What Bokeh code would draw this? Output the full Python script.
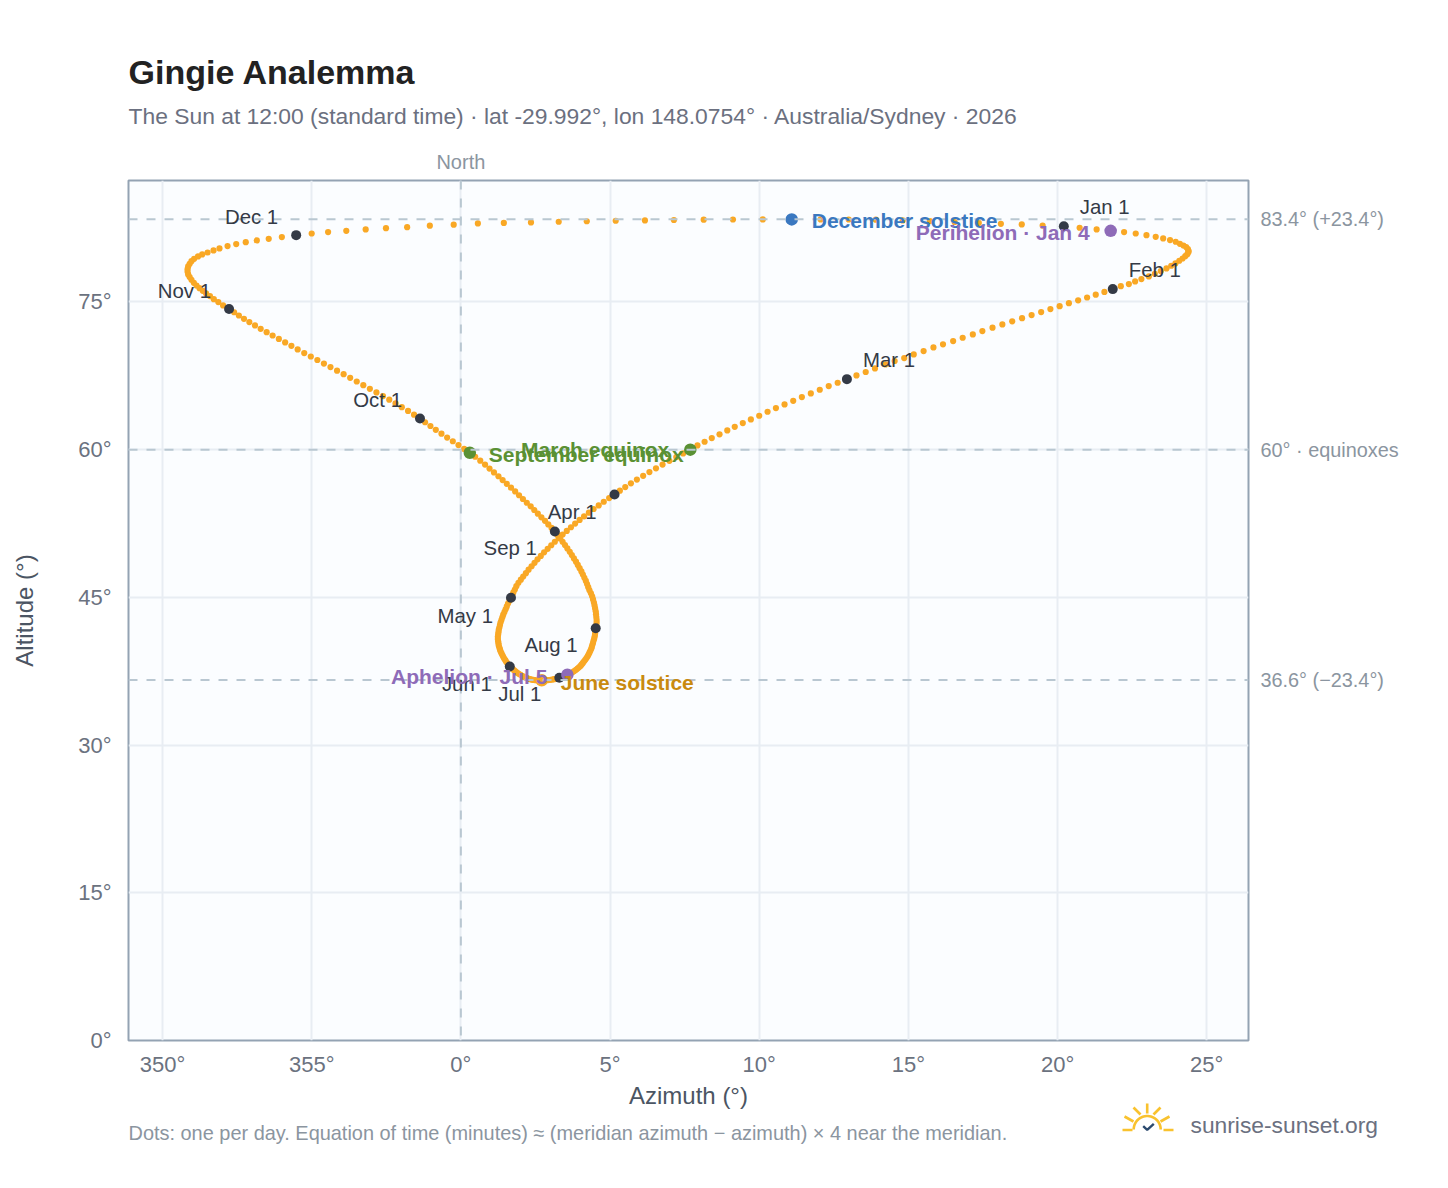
import numpy as np
from bokeh.embed import file_html
from bokeh.layouts import column
from bokeh.models import FixedTicker, Label, LinearAxis, Span
from bokeh.plotting import figure
from bokeh.resources import INLINE

TITLE = "Gingie Analemma"
SUBTITLE = "The Sun at 12:00 (standard time) · lat -29.992°, lon 148.0754° · Australia/Sydney · 2026"
CAPTION = "Dots: one per day. Equation of time (minutes) ≈ (meridian azimuth − azimuth) × 4 near the meridian."
BRAND = "sunrise-sunset.org"

# Daily azimuth (degrees, east positive) and altitude (degrees), month by month
AZ_JAN = [20.21,20.74,21.31,21.78,22.23,22.62,22.98,23.29,23.54,23.77,23.96,24.10,24.22,24.31,24.37,24.39,24.39,24.35,24.28,24.19,24.08,23.95,23.81,23.65,23.46,23.26,23.06,22.81,22.60,22.39,22.12]
AL_JAN = [82.68,82.53,82.36,82.22,82.09,81.95,81.78,81.61,81.45,81.28,81.11,80.90,80.73,80.57,80.36,80.19,80.06,79.85,79.65,79.41,79.18,78.91,78.67,78.40,78.13,77.86,77.59,77.32,77.08,76.81,76.60]
AZ_FEB = [21.85,21.57,21.28,20.99,20.69,20.38,20.07,19.76,19.45,19.13,18.81,18.48,18.15,17.82,17.48,17.16,16.82,16.50,16.16,15.84,15.51,15.18,14.86,14.54,14.23,13.88,13.57,13.26]
AL_FEB = [76.30,76.02,75.74,75.45,75.16,74.87,74.57,74.27,73.97,73.66,73.35,73.03,72.71,72.38,72.04,71.70,71.36,71.02,70.69,70.38,70.01,69.67,69.30,69.00,68.65,68.25,67.88,67.54]
AZ_MAR = [12.94,12.63,12.33,12.03,11.73,11.43,11.14,10.85,10.56,10.28,10.00,9.72,9.45,9.18,8.93,8.67,8.41,8.17,7.93,7.69,7.45,7.22,6.99,6.76,6.54,6.32,6.11,5.90,5.70,5.51,5.33]
AL_MAR = [67.16,66.79,66.45,66.08,65.71,65.34,64.96,64.59,64.22,63.85,63.44,63.07,62.70,62.32,61.95,61.55,61.17,60.80,60.43,60.00,59.62,59.24,58.86,58.48,58.10,57.72,57.34,56.96,56.58,56.20,55.83]
AZ_APR = [5.15,4.97,4.79,4.62,4.45,4.29,4.13,3.98,3.83,3.69,3.55,3.41,3.28,3.15,3.03,2.91,2.79,2.68,2.57,2.47,2.37,2.27,2.18,2.09,2.01,1.93,1.86,1.81,1.76,1.72]
AL_APR = [55.45,55.08,54.71,54.34,53.97,53.60,53.23,52.86,52.49,52.12,51.75,51.38,51.01,50.65,50.29,49.93,49.57,49.21,48.86,48.51,48.16,47.81,47.46,47.12,46.80,46.48,46.14,45.80,45.50,45.22]
AZ_MAY = [1.68,1.63,1.58,1.54,1.50,1.46,1.42,1.39,1.36,1.33,1.31,1.29,1.27,1.26,1.25,1.24,1.24,1.25,1.26,1.27,1.29,1.31,1.33,1.36,1.39,1.42,1.45,1.49,1.52,1.56,1.60]
AL_MAY = [44.96,44.66,44.37,44.08,43.79,43.51,43.24,42.97,42.70,42.44,42.19,41.94,41.69,41.45,41.22,40.99,40.76,40.54,40.33,40.12,39.91,39.71,39.52,39.33,39.14,38.96,38.79,38.62,38.45,38.29,38.14]
AZ_JUN = [1.64,1.69,1.74,1.79,1.84,1.89,1.94,2.00,2.05,2.10,2.16,2.21,2.26,2.32,2.37,2.43,2.48,2.54,2.59,2.65,2.71,2.77,2.83,2.89,2.95,3.01,3.07,3.12,3.18,3.24]
AL_JUN = [37.98,37.84,37.71,37.58,37.46,37.34,37.23,37.13,37.04,36.95,36.87,36.80,36.74,36.69,36.65,36.62,36.60,36.58,36.57,36.57,36.57,36.57,36.58,36.59,36.61,36.63,36.66,36.69,36.73,36.78]
AZ_JUL = [3.30,3.37,3.44,3.50,3.57,3.63,3.69,3.75,3.80,3.86,3.91,3.96,4.01,4.05,4.09,4.13,4.17,4.21,4.25,4.28,4.31,4.34,4.37,4.39,4.41,4.43,4.45,4.47,4.49,4.50,4.51]
AL_JUL = [36.83,36.90,36.97,37.05,37.14,37.22,37.31,37.41,37.52,37.64,37.77,37.90,38.04,38.19,38.34,38.50,38.66,38.83,39.01,39.19,39.38,39.57,39.77,39.97,40.18,40.39,40.61,40.83,41.08,41.33,41.60]
AZ_AUG = [4.52,4.54,4.55,4.55,4.54,4.53,4.52,4.50,4.48,4.46,4.43,4.40,4.36,4.31,4.27,4.23,4.19,4.14,4.09,4.04,3.98,3.92,3.86,3.79,3.72,3.65,3.57,3.49,3.41,3.33,3.24]
AL_AUG = [41.87,42.15,42.43,42.71,43.00,43.29,43.58,43.88,44.18,44.48,44.79,45.10,45.41,45.72,46.03,46.35,46.67,46.99,47.31,47.63,47.96,48.29,48.62,48.95,49.29,49.63,49.97,50.31,50.65,50.99,51.34]
AZ_SEP = [3.15,3.04,2.93,2.82,2.70,2.58,2.46,2.34,2.21,2.08,1.95,1.82,1.68,1.54,1.40,1.26,1.11,0.96,0.81,0.65,0.48,0.30,0.11,-0.08,-0.27,-0.46,-0.65,-0.84,-1.02,-1.20]
AL_SEP = [51.69,52.05,52.41,52.77,53.13,53.50,53.87,54.24,54.61,54.99,55.37,55.76,56.14,56.53,56.91,57.30,57.69,58.08,58.48,58.88,59.28,59.68,60.07,60.46,60.85,61.23,61.62,62.01,62.40,62.78]
AZ_OCT = [-1.37,-1.57,-1.77,-1.98,-2.19,-2.40,-2.61,-2.83,-3.05,-3.27,-3.49,-3.71,-3.93,-4.15,-4.37,-4.59,-4.81,-5.03,-5.25,-5.47,-5.68,-5.89,-6.10,-6.31,-6.51,-6.71,-6.90,-7.09,-7.27,-7.44,-7.60]
AL_OCT = [63.17,63.55,63.93,64.31,64.69,65.07,65.44,65.81,66.18,66.55,66.92,67.29,67.66,68.02,68.38,68.74,69.10,69.46,69.81,70.18,70.54,70.89,71.24,71.59,71.93,72.27,72.61,72.95,73.28,73.62,73.95]
AZ_NOV = [-7.77,-7.97,-8.13,-8.28,-8.41,-8.54,-8.65,-8.76,-8.86,-8.95,-9.03,-9.09,-9.14,-9.16,-9.16,-9.14,-9.09,-9.03,-8.94,-8.81,-8.67,-8.49,-8.29,-8.09,-7.82,-7.53,-7.21,-6.84,-6.44,-6.00]
AL_NOV = [74.29,74.64,74.98,75.28,75.59,75.86,76.13,76.40,76.67,76.94,77.25,77.52,77.79,78.06,78.33,78.60,78.87,79.14,79.38,79.62,79.82,80.02,80.23,80.43,80.67,80.87,81.07,81.24,81.41,81.58]
AZ_DEC = [-5.52,-5.00,-4.45,-3.84,-3.19,-2.51,-1.80,-1.04,-0.24,0.57,1.44,2.35,3.28,4.22,5.19,6.17,7.14,8.14,9.12,10.12,11.09,12.06,13.00,13.91,14.81,15.72,16.55,17.36,18.10,18.80,19.50]
AL_DEC = [81.78,81.95,82.09,82.22,82.36,82.49,82.59,82.74,82.84,82.97,83.02,83.07,83.14,83.19,83.24,83.28,83.32,83.35,83.37,83.38,83.38,83.38,83.37,83.35,83.28,83.21,83.12,83.02,82.93,82.87,82.75]

AZIMUTH = AZ_JAN + AZ_FEB + AZ_MAR + AZ_APR + AZ_MAY + AZ_JUN + AZ_JUL + AZ_AUG + AZ_SEP + AZ_OCT + AZ_NOV + AZ_DEC
ALTITUDE = AL_JAN + AL_FEB + AL_MAR + AL_APR + AL_MAY + AL_JUN + AL_JUL + AL_AUG + AL_SEP + AL_OCT + AL_NOV + AL_DEC

MONTH_NAMES = ["Jan", "Feb", "Mar", "Apr", "May", "Jun", "Jul", "Aug", "Sep", "Oct", "Nov", "Dec"]
MONTH_AZ = [AZ_JAN[0], AZ_FEB[0], AZ_MAR[0], AZ_APR[0], AZ_MAY[0], AZ_JUN[0], AZ_JUL[0], AZ_AUG[0], AZ_SEP[0], AZ_OCT[0], AZ_NOV[0], AZ_DEC[0]]
MONTH_AL = [AL_JAN[0], AL_FEB[0], AL_MAR[0], AL_APR[0], AL_MAY[0], AL_JUN[0], AL_JUL[0], AL_AUG[0], AL_SEP[0], AL_OCT[0], AL_NOV[0], AL_DEC[0]]

EVENT_NAMES = ["March equinox", "June solstice", "September equinox", "December solstice", "Perihelion · Jan 4", "Aphelion · Jul 5"]
EVENT_AZ = [AZ_MAR[19], AZ_JUN[20], AZ_SEP[21], AZ_DEC[20], AZ_JAN[3], AZ_JUL[4]]
EVENT_AL = [AL_MAR[19], AL_JUN[20], AL_SEP[21], AL_DEC[20], AL_JAN[3], AL_JUL[4]]
EVENT_COLORS = ["#5a9134", "#f9a825", "#5a9134", "#3a78c0", "#8e6bb8", "#8e6bb8"]
EVENT_TEXT = ["#5a9134", "#c98a0f", "#5a9134", "#3a78c0", "#8e6bb8", "#8e6bb8"]

X_TICKS = [-10, -5, 0, 5, 10, 15, 20, 25]
X_LABELS = ["350°", "355°", "0°", "5°", "10°", "15°", "20°", "25°"]
Y_TICKS = [0, 15, 30, 45, 60, 75]
Y_LABELS = ["0°", "15°", "30°", "45°", "60°", "75°"]
REF_ALT = [83.4, 60, 36.6]
REF_LABELS = ["83.4° (+23.4°)", "60° · equinoxes", "36.6° (−23.4°)"]

FONT = "Liberation Sans"
XR = (-11.14, 26.40)
YR = (0, 87.33)

# ---- header band: page pixels ----
head = figure(width=1440, height=147, x_range=(0, 1440), y_range=(147, 0), x_axis_type=None, y_axis_type=None,
              output_backend="svg", toolbar_location=None, min_border=0, outline_line_color=None, frame_align=False)
head.grid.visible = False

def band_text(fig, x, y, text, size, color, style="normal"):
    fig.add_layout(Label(x=x, y=y, text=text, text_baseline="middle", text_font=FONT, text_font_size=size,
                         text_font_style=style, text_color=color))

band_text(head, 128, 71.5, TITLE, "34px", "#222222", "bold")
band_text(head, 128, 115.5, SUBTITLE, "22.85px", "#6b7080")

# ---- main plot ----
p = figure(width=1440, height=973, frame_width=1120, frame_height=860,
           x_range=XR, y_range=YR, output_backend="svg", toolbar_location=None,
           min_border_left=128, min_border_top=33, min_border_right=192, min_border_bottom=80,
           background_fill_color="#fbfdff", border_fill_color=None, frame_align=False)
p.outline_line_color = "#94a3b3"
p.outline_line_width = 2

p.xaxis.ticker = FixedTicker(ticks=X_TICKS)
p.yaxis.ticker = FixedTicker(ticks=Y_TICKS)
p.xaxis.major_label_overrides = dict(zip(X_TICKS, X_LABELS))
p.yaxis.major_label_overrides = dict(zip(Y_TICKS, Y_LABELS))

def style_axis(ax, size, color, standoff):
    ax.axis_line_color = None
    ax.major_tick_line_color = None
    ax.minor_tick_line_color = None
    ax.major_tick_out = 0
    ax.major_tick_in = 0
    ax.minor_tick_out = 0
    ax.minor_tick_in = 0
    ax.major_label_text_font = FONT
    ax.major_label_text_font_size = size
    ax.major_label_text_color = color
    ax.major_label_standoff = standoff
    ax.axis_label_text_font = FONT
    ax.axis_label_text_font_style = "normal"
    ax.axis_label_text_font_size = "24px"
    ax.axis_label_text_color = "#4b5563"

style_axis(p.xaxis[0], "22px", "#6b7280", 11)
style_axis(p.yaxis[0], "22px", "#6b7280", 17)
p.xaxis[0].axis_label = "Azimuth (°)"
p.yaxis[0].axis_label = "Altitude (°)"
p.xaxis[0].axis_label_standoff = 2
p.yaxis[0].axis_label_standoff = 37
p.xgrid.grid_line_color = "#e8edf3"
p.ygrid.grid_line_color = "#e8edf3"
p.xgrid.grid_line_width = 2
p.ygrid.grid_line_width = 2

right_axis = LinearAxis(ticker=FixedTicker(ticks=REF_ALT), major_label_overrides=dict(zip(REF_ALT, REF_LABELS)))
style_axis(right_axis, "19.85px", "#8b95a0", 12)
p.add_layout(right_axis, "right")
top_axis = LinearAxis(ticker=FixedTicker(ticks=[0]), major_label_overrides={0: "North"})
style_axis(top_axis, "20px", "#8b95a0", 8)
p.add_layout(top_axis, "above")

for a in REF_ALT:
    p.add_layout(Span(location=a, dimension="width", line_color="#b9c7d1", line_width=2, line_dash=[9, 9]))
p.add_layout(Span(location=0, dimension="height", line_color="#b9c7d1", line_width=2, line_dash=[9, 9]))

p.scatter(AZIMUTH, ALTITUDE, size=6.2, color="#f9a825", line_color=None)
p.scatter(MONTH_AZ, MONTH_AL, size=10, color="#343a46", line_color=None)
p.scatter(EVENT_AZ, EVENT_AL, size=12.5, color=EVENT_COLORS, line_color=None)

# Month labels: (dx, dy, align) relative to their dot in pixels
MONTH_OFF = [(16, 19, "left"), (16, 19, "left"), (16, 19, "left"), (-18, -18, "right"),
             (-18, -18, "right"), (-18, -18, "right"), (-18, -16, "right"), (-18, -17, "right"),
             (-18, -17, "right"), (-18, 18, "right"), (-18, 18, "right"), (-18, 18, "right")]
for name, x, y, (dx, dy, al) in zip(MONTH_NAMES, MONTH_AZ, MONTH_AL, MONTH_OFF):
    p.add_layout(Label(x=x, y=y, x_offset=dx, y_offset=dy, text=f"{name} 1", text_align=al,
                       text_baseline="middle", text_font=FONT, text_font_size="20.4px", text_color="#343a46"))

EVENT_OFF = [(-21, 0, "right"), (19, -2, "left"), (19, -2, "left"), (20, -1, "left"), (-21, -2, "right"), (-20, -2, "right")]
for name, x, y, c, (dx, dy, al) in zip(EVENT_NAMES, EVENT_AZ, EVENT_AL, EVENT_TEXT, EVENT_OFF):
    p.add_layout(Label(x=x, y=y, x_offset=dx, y_offset=dy, text=name, text_align=al, text_baseline="middle",
                       text_font=FONT, text_font_style="bold", text_font_size="21px", text_color=c))

# ---- footer band: overlaps the main plot's empty bottom edge; page pixels ----
foot = figure(width=1440, height=80, x_range=(0, 1440), y_range=(1180, 1100), x_axis_type=None, y_axis_type=None,
              output_backend="svg", toolbar_location=None, min_border=0, outline_line_color=None,
              background_fill_color=None, border_fill_color=None, margin=(-20, 0, 0, 0), frame_align=False)
foot.grid.visible = False
band_text(foot, 128, 1132.5, CAPTION, "19.93px", "#8b95a0")
band_text(foot, 1190, 1124.5, BRAND, "22.8px", "#6b7080")

GOLD = "#f9c22e"
t = np.linspace(np.pi, 2 * np.pi, 30)
LOGO_RAYS_X = [list(1146.7 + 13.5 * np.cos(t)), [1122, 1132], [1163, 1173], [1146.7, 1146.7], [1133, 1140], [1160, 1153], [1124, 1133], [1169, 1160]]
LOGO_RAYS_Y = [list(1129 + 13.5 * np.sin(t)), [1129.5, 1129.5], [1129.5, 1129.5], [1103, 1113], [1107, 1114], [1107, 1114], [1116, 1121], [1116, 1121]]
foot.multi_line(LOGO_RAYS_X, LOGO_RAYS_Y, line_color=GOLD, line_width=2.6)
foot.line([1142.7, 1146.7, 1153.3], [1125.7, 1129.3, 1123.3], line_color="#2c4a6e", line_width=2.4)

open("out.html", "w").write(file_html(column(head, p, foot, spacing=0), INLINE))
